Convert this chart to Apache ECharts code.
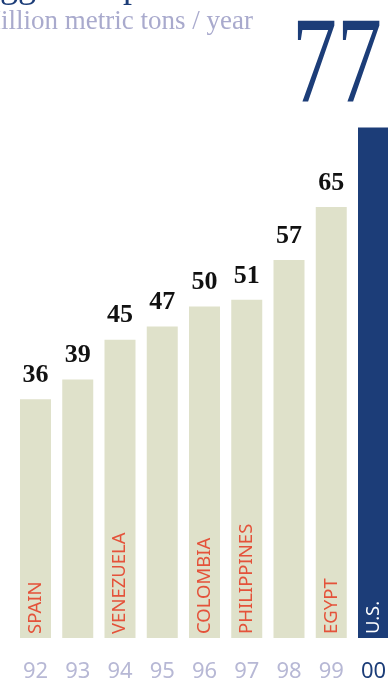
<!DOCTYPE html>
<html>
<head>
<meta charset="utf-8">
<script src="https://cdn.jsdelivr.net/npm/echarts@6/dist/echarts.min.js"></script>
<style>
  html, body { margin: 0; padding: 0; background: #ffffff; }
  #chart { width: 388px; height: 682px; }
</style>
</head>
<body>
<div id="chart"></div>
<script>
// Annual imports, million metric tons per year, with the leading importer of each year
var years = ['92', '93', '94', '95', '96', '97', '98', '99', '00'];
var values = [36, 39, 45, 47, 50, 51, 57, 65, 77];
var countries = ['SPAIN', '', 'VENEZUELA', '', 'COLOMBIA', 'PHILIPPINES', '', 'EGYPT', 'U.S.'];
var highlightIndex = 8;

var NAVY = '#1c3d78';
var KHAKI = '#dfe1ca';
var LAVENDER = '#b7b8d5';
var ORANGE = '#e4523a';

var chart = echarts.init(document.getElementById('chart'), null, { renderer: 'canvas' });

var barData = values.map(function (v, i) {
  return {
    value: v,
    itemStyle: { color: i === highlightIndex ? NAVY : KHAKI },
    label: { show: i !== highlightIndex }
  };
});

var nameData = values.map(function (v, i) {
  return {
    value: v,
    label: {
      formatter: countries[i],
      color: i === highlightIndex ? '#ffffff' : ORANGE
    }
  };
});

chart.setOption({
  animation: false,
  grid: {
    left: 14.375,
    width: 380.25,
    top: 107.6,
    bottom: 44,
    containLabel: false,
    outerBoundsMode: 'none'
  },
  xAxis: {
    type: 'category',
    data: years,
    axisLine: { show: false },
    axisTick: { show: false },
    axisLabel: {
      margin: 23,
      fontFamily: 'Noto Sans',
      fontSize: 22,
      color: function (value, index) {
        return index === highlightIndex ? NAVY : LAVENDER;
      }
    }
  },
  yAxis: {
    type: 'value',
    min: 0,
    max: 80,
    show: false,
    splitLine: { show: false }
  },
  series: [
    {
      type: 'bar',
      barWidth: 31,
      data: barData,
      label: {
        show: true,
        position: 'top',
        distance: 11,
        fontFamily: 'Liberation Serif',
        fontWeight: 'bold',
        fontSize: 26,
        color: '#111111'
      }
    },
    {
      type: 'bar',
      barWidth: 31,
      barGap: '-100%',
      data: nameData,
      itemStyle: { color: 'rgba(0,0,0,0)' },
      label: {
        show: true,
        position: 'insideBottom',
        rotate: 90,
        align: 'left',
        verticalAlign: 'middle',
        distance: 4,
        fontFamily: 'Noto Sans',
        fontSize: 18.5
      }
    }
  ],
  graphic: [
    {
      type: 'text',
      x: -34,
      y: -30,
      style: {
        text: 'Biggest importer',
        fontFamily: 'Liberation Serif',
        fontSize: 36,
        fill: NAVY,
        align: 'left',
        verticalAlign: 'top'
      }
    },
    {
      type: 'text',
      x: -23,
      y: 8,
      style: {
        text: 'Million metric tons / year',
        fontFamily: 'Liberation Serif',
        fontSize: 27,
        fill: '#a9aacd',
        align: 'left',
        verticalAlign: 'top'
      }
    },
    {
      type: 'text',
      x: 292,
      y: 7,
      scaleX: 0.73,
      style: {
        text: String(values[highlightIndex]),
        fontFamily: 'Liberation Serif',
        fontSize: 123,
        fill: NAVY,
        align: 'left',
        verticalAlign: 'top'
      }
    }
  ]
});
</script>
</body>
</html>
